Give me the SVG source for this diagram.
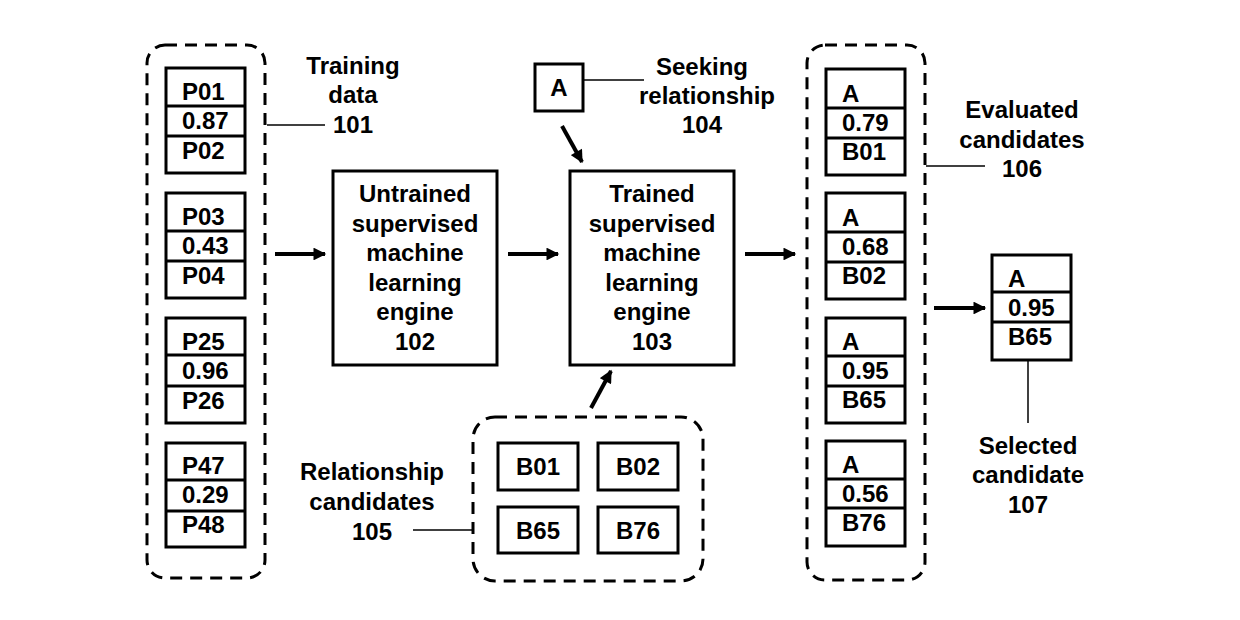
<svg xmlns="http://www.w3.org/2000/svg" width="1240" height="620" viewBox="0 0 1240 620">
<defs>
<style>
text{font-family:"Liberation Sans",Arial,sans-serif;font-weight:bold;font-size:24px;fill:#000}
.c{text-anchor:middle}
.box{fill:#fff;stroke:#000;stroke-width:3}
.dash{fill:none;stroke:#000;stroke-width:3;stroke-dasharray:12 8}
.div{stroke:#000;stroke-width:3}
.lead{stroke:#000;stroke-width:1.5;fill:none}
.arr{stroke:#000;stroke-width:4;fill:none;marker-end:url(#ah)}
</style>
<marker id="ah" viewBox="0 0 10 10" refX="9" refY="5" markerWidth="3.6" markerHeight="3.2" orient="auto" markerUnits="strokeWidth">
<path d="M0,0 L10,5 L0,10 z" fill="#000"/>
</marker>
</defs>
<rect width="1240" height="620" fill="#fff"/>

<g id="training-data">
<rect class="dash" x="147" y="45" width="118" height="533" rx="18"/>
<g id="rec-p01">
<rect class="box" x="166" y="68" width="79" height="105"/>
<line class="div" x1="166" y1="106" x2="245" y2="106"/><line class="div" x1="166" y1="136" x2="245" y2="136"/>
<text x="182" y="100">P01</text><text x="182" y="129">0.87</text><text x="182" y="159">P02</text>
</g>
<g id="rec-p03">
<rect class="box" x="166" y="193" width="79" height="105"/>
<line class="div" x1="166" y1="231" x2="245" y2="231"/><line class="div" x1="166" y1="261" x2="245" y2="261"/>
<text x="182" y="225">P03</text><text x="182" y="254">0.43</text><text x="182" y="284">P04</text>
</g>
<g id="rec-p25">
<rect class="box" x="166" y="318" width="79" height="105"/>
<line class="div" x1="166" y1="355" x2="245" y2="355"/><line class="div" x1="166" y1="386" x2="245" y2="386"/>
<text x="182" y="350">P25</text><text x="182" y="379">0.96</text><text x="182" y="409">P26</text>
</g>
<g id="rec-p47">
<rect class="box" x="166" y="443" width="79" height="104"/>
<line class="div" x1="166" y1="480" x2="245" y2="480"/><line class="div" x1="166" y1="511" x2="245" y2="511"/>
<text x="182" y="474">P47</text><text x="182" y="503">0.29</text><text x="182" y="533">P48</text>
</g>
</g>

<g id="label-101">
<line class="lead" x1="267" y1="125" x2="325" y2="125"/>
<text class="c" x="353" y="74">Training</text>
<text class="c" x="353" y="103">data</text>
<text class="c" x="353" y="133">101</text>
</g>

<g id="engine-102">
<rect class="box" x="333" y="171" width="164" height="194"/>
<text class="c" x="415" y="202">Untrained</text>
<text class="c" x="415" y="232">supervised</text>
<text class="c" x="415" y="261">machine</text>
<text class="c" x="415" y="291">learning</text>
<text class="c" x="415" y="320">engine</text>
<text class="c" x="415" y="350">102</text>
</g>

<g id="engine-103">
<rect class="box" x="570" y="171" width="164" height="194"/>
<text class="c" x="652" y="202">Trained</text>
<text class="c" x="652" y="232">supervised</text>
<text class="c" x="652" y="261">machine</text>
<text class="c" x="652" y="291">learning</text>
<text class="c" x="652" y="320">engine</text>
<text class="c" x="652" y="350">103</text>
</g>

<g id="seeking-104">
<rect class="box" x="535" y="64" width="48" height="47"/>
<text class="c" x="559" y="96">A</text>
<line class="lead" x1="583" y1="80" x2="644" y2="80"/>
<text class="c" x="702" y="75">Seeking</text>
<text class="c" x="707" y="104">relationship</text>
<text class="c" x="702" y="133">104</text>
</g>

<g id="candidates-105">
<rect class="dash" x="473" y="417" width="230" height="164" rx="22"/>
<rect class="box" x="498" y="443" width="80" height="47"/><text class="c" x="538" y="475">B01</text>
<rect class="box" x="598" y="443" width="80" height="47"/><text class="c" x="638" y="475">B02</text>
<rect class="box" x="498" y="507" width="80" height="46"/><text class="c" x="538" y="539">B65</text>
<rect class="box" x="598" y="507" width="80" height="46"/><text class="c" x="638" y="539">B76</text>
<line class="lead" x1="413" y1="530" x2="473" y2="530"/>
<text class="c" x="372" y="480">Relationship</text>
<text class="c" x="372" y="510">candidates</text>
<text class="c" x="372" y="540">105</text>
</g>

<g id="evaluated-106">
<rect class="dash" x="807" y="45" width="118" height="535" rx="18"/>
<g id="rec-b01">
<rect class="box" x="826" y="69" width="79" height="106"/>
<line class="div" x1="826" y1="108" x2="905" y2="108"/><line class="div" x1="826" y1="138" x2="905" y2="138"/>
<text x="842" y="102">A</text><text x="842" y="131">0.79</text><text x="842" y="160">B01</text>
</g>
<g id="rec-b02">
<rect class="box" x="826" y="193" width="79" height="106"/>
<line class="div" x1="826" y1="232" x2="905" y2="232"/><line class="div" x1="826" y1="262" x2="905" y2="262"/>
<text x="842" y="226">A</text><text x="842" y="255">0.68</text><text x="842" y="284">B02</text>
</g>
<g id="rec-b65">
<rect class="box" x="826" y="318" width="79" height="105"/>
<line class="div" x1="826" y1="356" x2="905" y2="356"/><line class="div" x1="826" y1="386" x2="905" y2="386"/>
<text x="842" y="350">A</text><text x="842" y="379">0.95</text><text x="842" y="408">B65</text>
</g>
<g id="rec-b76">
<rect class="box" x="826" y="441" width="79" height="105"/>
<line class="div" x1="826" y1="479" x2="905" y2="479"/><line class="div" x1="826" y1="508" x2="905" y2="508"/>
<text x="842" y="473">A</text><text x="842" y="502">0.56</text><text x="842" y="531">B76</text>
</g>
<line class="lead" x1="926" y1="166" x2="985" y2="166"/>
<text class="c" x="1022" y="118">Evaluated</text>
<text class="c" x="1022" y="148">candidates</text>
<text class="c" x="1022" y="177">106</text>
</g>

<g id="selected-107">
<rect class="box" x="992" y="255" width="79" height="105"/>
<line class="div" x1="992" y1="292" x2="1071" y2="292"/><line class="div" x1="992" y1="322" x2="1071" y2="322"/>
<text x="1008" y="287">A</text><text x="1008" y="316">0.95</text><text x="1008" y="345">B65</text>
<line class="lead" x1="1028" y1="360" x2="1028" y2="423"/>
<text class="c" x="1028" y="454">Selected</text>
<text class="c" x="1028" y="483">candidate</text>
<text class="c" x="1028" y="513">107</text>
</g>

<g id="connectors">
<line class="arr" x1="275" y1="254" x2="325" y2="254"/>
<line class="arr" x1="508" y1="254" x2="558" y2="254"/>
<line class="arr" x1="745" y1="254" x2="795" y2="254"/>
<line class="arr" x1="562" y1="126" x2="582" y2="162"/>
<line class="arr" x1="591" y1="408" x2="611" y2="371"/>
<line class="arr" x1="934" y1="308" x2="985" y2="308"/>
</g>
</svg>
